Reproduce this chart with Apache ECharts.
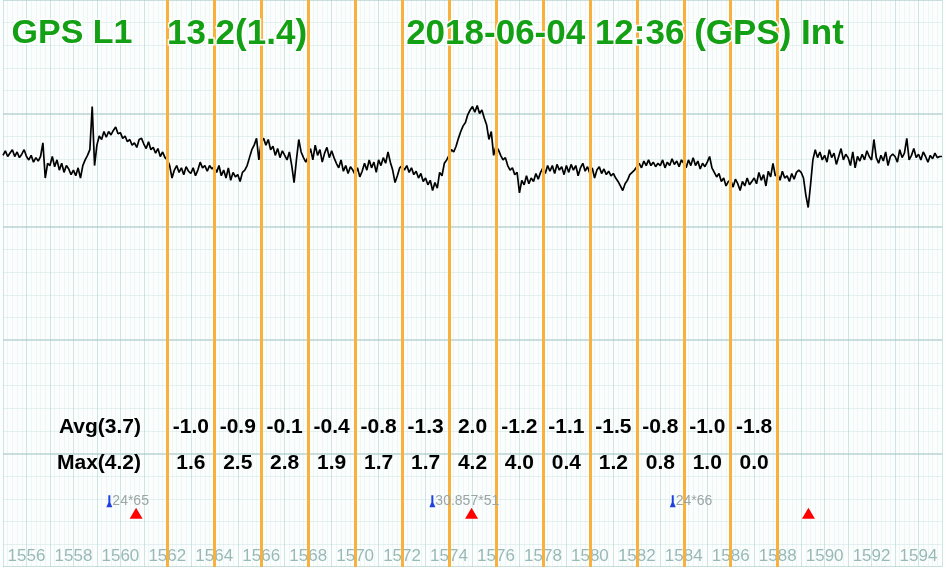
<!DOCTYPE html>
<html><head><meta charset="utf-8">
<script src="https://cdn.jsdelivr.net/npm/echarts@6/dist/echarts.min.js"></script>
<style>html,body{margin:0;padding:0;background:#fff;}#c{width:945px;height:567px;}</style>
</head><body><div id="c"></div>
<script>
// ---------- DATA ----------
const FREQ_START = 1555.0;   // MHz, first sample
const FREQ_STEP = 0.1;       // MHz between samples
const trace = [
36.3,36.7,36.2,36.5,36.8,36.2,36.6,36.1,36.4,36.8,
36.2,35.9,36.3,35.7,36.1,35.8,36.2,37.4,34.3,35.6,
35.4,36.2,35.3,35.9,35.0,35.6,34.8,35.4,35.1,34.6,
35.0,34.5,35.2,34.3,35.4,35.9,36.3,36.8,40.6,35.4,
37.2,38.0,37.7,38.4,37.9,38.4,38.1,38.5,38.8,38.2,
38.3,37.8,38.0,37.5,37.7,37.2,37.4,37.0,37.7,37.8,
37.3,36.9,37.5,36.8,37.0,36.5,36.9,36.2,36.6,36.1,
35.9,35.4,34.3,35.0,35.4,34.8,35.2,34.6,35.3,34.9,
34.7,35.2,34.5,35.0,35.7,35.2,35.4,34.9,35.4,35.1,
35.3,34.8,35.4,34.5,35.0,34.3,35.2,34.1,34.8,34.4,
34.6,34.0,34.8,35.0,35.4,36.1,36.8,37.2,37.8,35.9,
37.5,37.8,37.2,37.7,36.8,37.1,36.3,36.9,36.1,36.7,
36.3,35.9,36.6,35.4,33.9,35.9,37.7,36.6,36.1,35.7,
36.2,36.9,35.9,37.2,36.3,36.8,35.7,36.5,37.0,36.1,
36.7,36.1,35.6,35.2,35.9,34.9,35.4,34.7,35.3,35.0,
34.6,35.2,34.4,34.9,35.6,35.0,35.9,35.2,35.7,34.8,
35.9,35.4,36.1,35.6,36.6,35.7,35.0,33.9,34.5,35.2,
35.4,35.0,35.4,34.8,35.2,34.6,34.9,34.3,34.7,34.0,
34.3,33.7,34.1,33.2,33.9,33.4,34.8,34.5,35.6,35.9,
36.3,36.8,36.6,37.1,37.8,38.4,38.9,39.2,39.9,40.3,
40.6,40.1,40.7,40.0,40.3,39.6,39.0,37.7,38.4,36.3,
37.1,36.8,36.3,35.9,36.1,35.4,35.0,35.2,34.6,34.8,
33.0,34.1,33.7,34.5,33.8,34.3,34.0,34.7,34.2,34.8,
35.2,34.7,35.4,34.9,35.4,34.7,35.5,35.0,35.3,34.6,
35.4,34.8,35.5,35.0,35.4,34.5,35.2,35.6,34.9,35.3,
34.7,35.2,34.3,35.0,35.3,34.7,35.1,34.6,34.9,34.5,
34.7,34.3,34.0,33.6,33.2,33.8,34.1,34.6,34.8,35.0,
35.3,35.6,35.2,35.8,35.4,35.9,35.4,35.7,35.3,35.6,
35.4,35.9,35.2,35.7,35.4,36.0,35.5,35.8,35.3,35.9,
35.6,35.2,35.9,35.4,36.1,35.4,35.8,35.1,35.6,35.3,
35.7,36.2,35.2,34.8,34.4,34.7,34.0,34.3,33.6,34.0,
34.1,33.5,34.2,33.8,33.2,34.0,33.6,34.3,33.7,34.0,
34.3,33.8,34.8,34.1,34.6,33.6,34.9,34.4,35.6,34.5,
34.7,34.1,34.9,34.3,34.5,34.0,34.7,34.2,34.8,35.0,
34.8,34.3,32.8,31.7,33.7,35.9,36.8,36.1,36.6,35.9,
36.3,35.7,36.8,36.1,36.5,35.5,36.2,36.9,35.9,36.4,
36.1,35.4,36.6,35.2,36.2,35.8,36.4,35.9,36.7,36.2,
35.9,37.7,36.1,35.6,36.3,35.8,36.6,35.4,36.2,36.4,
36.2,35.7,36.8,36.1,36.5,37.8,35.9,36.3,36.9,36.1,
36.4,35.9,36.6,36.2,35.7,36.3,36.0,36.5,36.1,36.2,36.2
];
const bandEdges = [1562,1564,1566,1568,1570,1572,1574,1576,1578,1580,1582,1584,1586,1588];
const avgValues = [-1.0,-0.9,-0.1,-0.4,-0.8,-1.3,2.0,-1.2,-1.1,-1.5,-0.8,-1.0,-1.8];
const maxValues = [1.6,2.5,2.8,1.9,1.7,1.7,4.2,4.0,0.4,1.2,0.8,1.0,0.0];
const avgHeader = 'Avg(3.7)';
const maxHeader = 'Max(4.2)';
const blueFreqs = [1559.53, 1573.29, 1583.53];
const blueLabels = ['24*65', '30.857*51', '24*66'];
const redFreqs = [1560.67, 1574.96, 1589.31];
const xTickLabels = [1556,1558,1560,1562,1564,1566,1568,1570,1572,1574,1576,1578,1580,1582,1584,1586,1588,1590,1592,1594];
const titleBand = 'GPS L1';
const titleLevel = '13.2(1.4)';
const titleTime = '2018-06-04 12:36 (GPS) Int';

// ---------- LAYOUT (axis units) ----------
const X_MIN = 1555, X_MAX = 1595, Y_MIN = 0, Y_MAX = 50;
const AVG_ROW_Y = 12.35, MAX_ROW_Y = 9.17, BLUE_ROW_Y = 5.8, RED_ROW_Y = 4.75, HEADER_X = 1560.9;
const BG = '#fcfefe';

const FONT = '"Liberation Sans", Arial, sans-serif';
const chart = echarts.init(document.getElementById('c'), null, {renderer: 'canvas'});

const traceData = trace.map((v, i) => [+(FREQ_START + i * FREQ_STEP).toFixed(2), v]);
const centers = bandEdges.slice(0, -1).map((e, i) => (e + bandEdges[i + 1]) / 2);
const fmt = v => v.toFixed(1);
const valueLabels = [];
centers.forEach((c, i) => {
  valueLabels.push({value: [c, AVG_ROW_Y], label: {formatter: fmt(avgValues[i])}});
  valueLabels.push({value: [c, MAX_ROW_Y], label: {formatter: fmt(maxValues[i])}});
});
valueLabels.push({value: [HEADER_X, AVG_ROW_Y], label: {formatter: avgHeader, position: 'left', distance: 0}});
valueLabels.push({value: [HEADER_X, MAX_ROW_Y], label: {formatter: maxHeader, position: 'left', distance: 0}});

const titleStyle = (text, cx, size) => ({
  type: 'text', x: cx, y: 34, z: 100,
  style: {text, fill: '#14a014', font: 'bold ' + size + 'px ' + FONT, align: 'center', verticalAlign: 'middle',
          stroke: 'rgba(255,255,255,0.9)', lineWidth: 3, strokeFirst: true}
});

chart.setOption({
  animation: false,
  backgroundColor: BG,
  grid: {left: 0, right: 0, top: 0, bottom: 0, containLabel: false},
  xAxis: {
    type: 'value', min: X_MIN, max: X_MAX, interval: 1,
    axisLine: {show: false}, axisTick: {show: false},
    axisLabel: {inside: true, margin: 2, fontSize: 17, color: '#98b9b7', fontFamily: FONT,
      formatter: v => xTickLabels.indexOf(Math.round(v)) >= 0 ? String(Math.round(v)) : ''},
    splitLine: {show: true, lineStyle: {color: 'rgba(150,200,198,0.45)', width: 1}},
    minorTick: {show: false, splitNumber: 5},
    minorSplitLine: {show: true, lineStyle: {color: 'rgba(170,215,212,0.18)', width: 1}}
  },
  yAxis: {
    type: 'value', min: Y_MIN, max: Y_MAX, interval: 10,
    axisLine: {show: false}, axisTick: {show: false}, axisLabel: {show: false},
    splitLine: {show: true, lineStyle: {color: 'rgba(140,185,182,0.6)', width: 1.5}},
    minorTick: {show: false, splitNumber: 5},
    minorSplitLine: {show: true, lineStyle: {color: 'rgba(160,205,202,0.25)', width: 1}}
  },
  graphic: [
    titleStyle(titleBand, 72, 34),
    titleStyle(titleLevel, 237, 35),
    titleStyle(titleTime, 625, 35)
  ],
  series: [
    {
      type: 'line', data: [], z: 2, silent: true,
      markLine: {
        silent: true, symbol: ['none', 'none'], label: {show: false},
        lineStyle: {color: '#f8b13c', width: 3, type: 'solid', opacity: 1},
        data: bandEdges.map(v => ({xAxis: v}))
      }
    },
    {
      type: 'line', data: traceData, z: 3, showSymbol: false, symbol: 'none', silent: true,
      lineStyle: {color: '#000000', width: 1.7}
    },
    {
      type: 'scatter', data: valueLabels, z: 5, symbolSize: 1, silent: true,
      itemStyle: {color: BG, opacity: 1},
      emphasis: {disabled: true},
      label: {show: true, position: 'inside', fontSize: 21, fontWeight: 'bold', color: '#000',
              textBorderWidth: 0, opacity: 1, fontFamily: FONT}
    },
    {
      type: 'scatter', z: 6, silent: true,
      data: blueFreqs.map((f, i) => ({value: [f, BLUE_ROW_Y], name: blueLabels[i]})),
      symbol: 'path://M2,0 L4,0 L4,6 L6,10 L0,10 L2,6 Z', symbolSize: [6, 12],
      itemStyle: {color: '#2040e0', opacity: 1},
      label: {show: true, position: 'right', distance: 0, formatter: '{b}', color: '#9aa5a5', fontSize: 14, fontFamily: FONT}
    },
    {
      type: 'scatter', z: 6, silent: true,
      data: redFreqs.map(f => [f, RED_ROW_Y]),
      symbol: 'triangle', symbolSize: [13, 11],
      itemStyle: {color: '#ff0000', opacity: 1}
    }
  ]
});
</script></body></html>
